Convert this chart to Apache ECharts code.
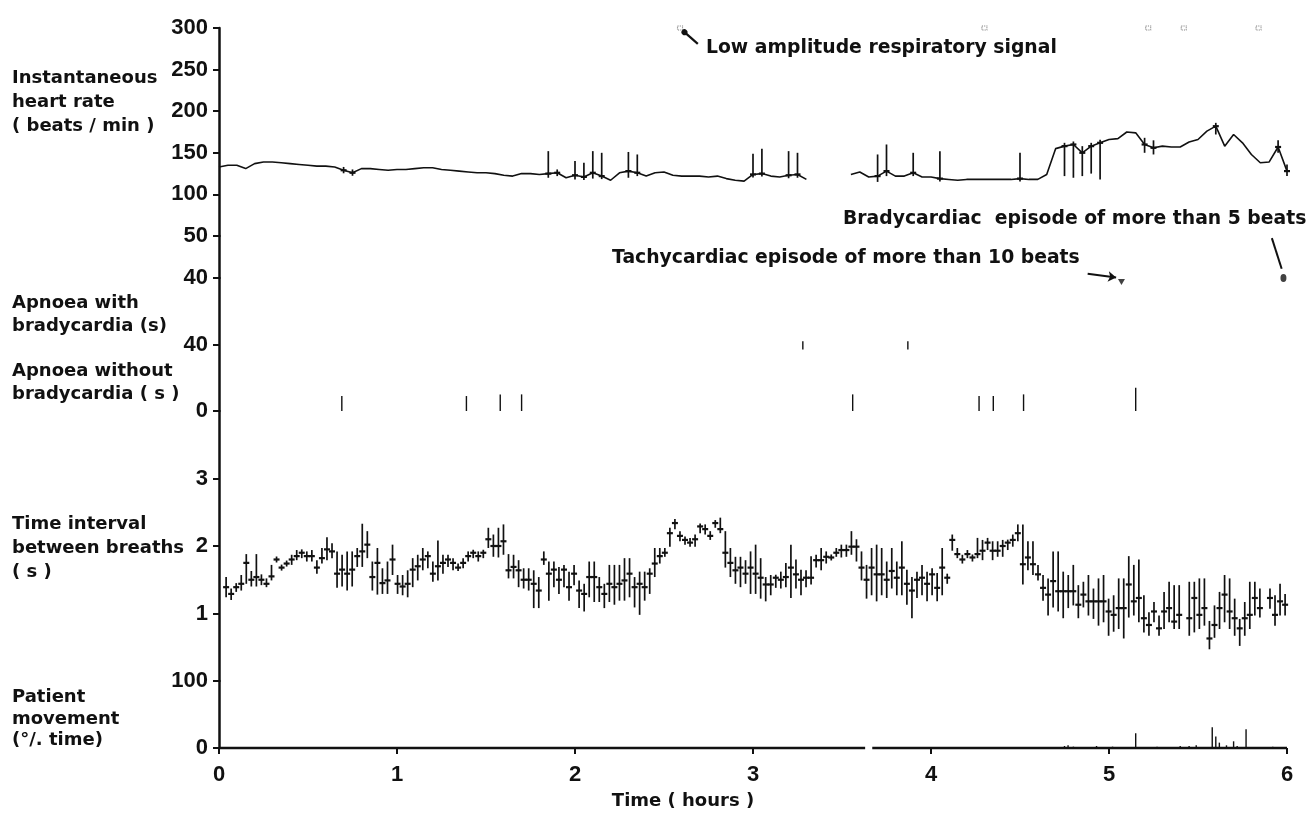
<!DOCTYPE html>
<html>
<head>
<meta charset="utf-8">
<title>Overnight record</title>
<script src="https://cdn.jsdelivr.net/npm/echarts@6/dist/echarts.min.js"></script>
<style>
  html, body { margin: 0; padding: 0; background: #fff; }
  #chart { width: 1308px; height: 813px; }
</style>
</head>
<body>
<div id="chart"></div>
<script>
// x axis: time in hours
const hourLabels = ['0', '1', '2', '3', '4', '5', '6']

// instantaneous heart rate, one value every 0.05 h (null = no signal)
const hrStep = 0.05
const hrMean = [
  133, 135, 135, 131, 137, 139, 139, 138, 137, 136,
  135, 134, 134, 133, 129, 126, 131, 131, 130, 129,
  130, 130, 131, 132, 132, 130, 129, 128, 127, 126,
  126, 125, 123, 122, 125, 125, 124, 125, 126, 120,
  123, 121, 126, 122, 117, 126, 128, 126, 122, 126,
  127, 123, 122, 122, 122, 121, 122, 119, 117, 116,
  124, 125, 122, 121, 123, 124, 118, null, null, null,
  null, 124, 127, 121, 122, 128, 122, 122, 126, 121,
  121, 119, 118, 117, 118, 118, 118, 118, 118, 118,
  119, 118, 118, 124, 155, 158, 160, 150, 158, 162,
  166, 167, 175, 174, 160, 156, 158, 157, 157, 163,
  166, 176, 182, 158, 172, 162, 148, 138, 139, 157,
  128,
]
// heart rate range bars
const hrBarTimes = [0.70, 0.75, 1.85, 1.90, 2.00, 2.05, 2.10, 2.15, 2.30, 2.35, 3.00, 3.05, 3.20, 3.25, 3.70, 3.75, 3.90, 4.05, 4.50, 4.75, 4.80, 4.85, 4.90, 4.95, 5.20, 5.25, 5.60, 5.95, 6.00]
const hrBarLow = [126, 123, 120, 122, 118, 118, 119, 120, 120, 122, 121, 122, 120, 120, 115, 122, 122, 118, 118, 122, 120, 122, 125, 118, 150, 148, 172, 150, 122]
const hrBarHigh = [133, 130, 152, 130, 140, 138, 152, 150, 151, 148, 149, 155, 152, 150, 148, 160, 150, 152, 150, 162, 160, 158, 162, 163, 168, 165, 186, 165, 136]

// low amplitude respiratory signal marks (top line)
const lowAmpTimes = [2.59, 4.30, 5.22, 5.42, 5.84]
const lowAmpLevel = 300

// episodes plotted on the 40 line
const tachyTimes = [5.07]
const bradyTimes = [5.98]
const episodeLevel = 40

// apnoea (s)
const apnoeaBradyTimes = [3.28, 3.87]
const apnoeaBradyLow = [37, 37]
const apnoeaBradyHigh = [42, 42]
const apnoeaTimes = [0.69, 1.39, 1.58, 1.70, 3.56, 4.27, 4.35, 4.52, 5.15]
const apnoeaSeconds = [9, 9, 10, 10, 10, 9, 9, 10, 14]

// time interval between breaths (s), one epoch every breathStep h
const breathStart = 0.04
const breathStep = 0.02833
const breathMid = [
  1.39, 1.29, 1.39, 1.44, 1.75, 1.5, 1.54, 1.5, 1.44, 1.55,
  1.8, 1.68, 1.74, 1.8, 1.85, 1.9, 1.85, 1.85, 1.68, 1.82,
  1.95, 1.92, 1.59, 1.65, 1.59, 1.65, 1.85, 1.92, 2.02, 1.54,
  1.75, 1.45, 1.49, 1.8, 1.44, 1.4, 1.44, 1.65, 1.7, 1.8,
  1.85, 1.59, 1.7, 1.75, 1.8, 1.75, 1.68, 1.75, 1.85, 1.9,
  1.85, 1.9, 2.1, 2.0, 2.0, 2.07, 1.64, 1.69, 1.64, 1.5,
  1.5, 1.44, 1.34, 1.8, 1.59, 1.65, 1.5, 1.65, 1.39, 1.59,
  1.34, 1.29, 1.54, 1.54, 1.39, 1.29, 1.44, 1.39, 1.44, 1.49,
  1.59, 1.39, 1.44, 1.39, 1.59, 1.74, 1.85, 1.9, 2.19, 2.34,
  2.15, 2.09, 2.05, 2.1, 2.29, 2.25, 2.15, 2.34, 2.25, 1.9,
  1.75, 1.64, 1.68, 1.59, 1.68, 1.59,
  1.53, 1.43, 1.43, 1.53, 1.5, 1.54, 1.68, 1.58, 1.5, 1.53,
  1.53, 1.79, 1.79, 1.84, 1.83, 1.9, 1.94, 1.94, 1.99, 1.99,
  1.68, 1.5, 1.68, 1.58, 1.58, 1.5, 1.63, 1.53, 1.68, 1.44,
  1.34, 1.5, 1.53, 1.44, 1.58, 1.38, 1.68, 1.53, 2.09, 1.88,
  1.8, 1.88, 1.83, 1.88, 1.93, 2.05, 1.93, 1.93, 2.0, 2.05,
  2.09, 2.19, 1.73, 1.83, 1.73, 1.58, 1.38, 1.28, 1.48, 1.33,
  1.33, 1.33, 1.33, 1.13, 1.28, 1.18, 1.18, 1.18, 1.18, 1.03,
  0.98, 1.08, 1.08, 1.43, 1.18, 1.23, 0.93, 0.83, 1.03, 0.78,
  1.03, 1.08, 0.88, 0.98, null, 0.93, 1.23, 0.98, 1.08, 0.63,
  0.83, 1.08, 1.28, 1.03, 0.93, 0.78, 0.93, 0.98, 1.23, 1.08,
  null, 1.23, 0.98, 1.18, 1.13,
]
const breathHigh = [
  1.54, 1.37, 1.45, 1.57, 1.88, 1.63, 1.88, 1.58, 1.52, 1.72,
  1.8, 1.68, 1.74, 1.87, 1.94, 1.95, 1.92, 1.94, 1.79, 1.97,
  2.13, 2.04, 1.92, 1.87, 1.92, 1.92, 1.97, 2.33, 2.22, 1.77,
  1.97, 1.67, 1.77, 2.02, 1.57, 1.57, 1.64, 1.82, 1.87, 1.97,
  1.92, 1.77, 2.08, 1.87, 1.87, 1.82, 1.74, 1.82, 1.92, 1.94,
  1.92, 1.93, 2.27, 2.17, 2.27, 2.32, 1.88, 1.87, 1.79, 1.67,
  1.67, 1.64, 1.54, 1.92, 1.77, 1.77, 1.69, 1.72, 1.62, 1.72,
  1.49, 1.44, 1.77, 1.77, 1.54, 1.44, 1.72, 1.72, 1.72, 1.82,
  1.82, 1.54, 1.62, 1.62, 1.67, 1.97, 1.97, 1.97, 2.27, 2.4,
  2.22, 2.14, 2.12, 2.17, 2.32, 2.32, 2.22, 2.37, 2.42, 2.22,
  1.97, 1.84, 1.84, 1.79, 1.92, 2.02,
  1.82, 1.54, 1.57, 1.57, 1.62, 1.75, 2.02, 1.8, 1.65, 1.64,
  1.85, 1.87, 1.97, 1.92, 1.87, 1.97, 2.02, 2.02, 2.22, 2.1,
  1.92, 1.72, 1.97, 2.02, 1.97, 1.77, 1.97, 1.77, 2.07, 1.65,
  1.54, 1.62, 1.72, 1.62, 1.67, 1.6, 1.97, 1.59, 2.17, 1.97,
  1.87, 1.94, 1.87, 2.12, 2.09, 2.12, 2.07, 2.07, 2.09, 2.09,
  2.17, 2.32, 2.32, 2.07, 2.07, 1.72, 1.57, 1.52, 1.92, 1.92,
  1.62, 1.57, 1.72, 1.42, 1.47, 1.57, 1.37, 1.52, 1.57, 1.22,
  1.27, 1.52, 1.52, 1.85, 1.72, 1.8, 1.27, 1.02, 1.17, 0.97,
  1.32, 1.47, 1.42, 1.42, null, 1.47, 1.47, 1.52, 1.52, 0.89,
  1.12, 1.32, 1.57, 1.52, 1.22, 0.92, 1.17, 1.47, 1.47, 1.37,
  null, 1.37, 1.27, 1.44, 1.29,
]
const breathLow = [
  1.24, 1.2, 1.32, 1.34, 1.44, 1.4, 1.4, 1.42, 1.39, 1.49,
  1.8, 1.68, 1.74, 1.72, 1.79, 1.82, 1.77, 1.77, 1.59, 1.74,
  1.79, 1.82, 1.38, 1.4, 1.34, 1.4, 1.69, 1.69, 1.82, 1.34,
  1.28, 1.29, 1.29, 1.57, 1.29, 1.27, 1.24, 1.39, 1.49, 1.64,
  1.67, 1.47, 1.49, 1.59, 1.69, 1.64, 1.63, 1.67, 1.77, 1.82,
  1.77, 1.82, 1.97, 1.84, 1.83, 1.87, 1.52, 1.52, 1.39, 1.37,
  1.34, 1.08, 1.08, 1.72, 1.19, 1.39, 1.29, 1.39, 1.19, 1.42,
  1.08, 1.03, 1.24, 1.17, 1.17, 1.08, 1.17, 1.13, 1.19, 1.19,
  1.24, 1.09, 0.98, 1.19, 1.29, 1.54, 1.74, 1.84, 1.99, 2.25,
  2.07, 2.02, 1.99, 1.99, 2.19, 2.17, 2.09, 2.27, 2.19, 1.68,
  1.54, 1.44, 1.39, 1.44, 1.29, 1.29,
  1.22, 1.18, 1.27, 1.38, 1.37, 1.39, 1.23, 1.37, 1.27, 1.39,
  1.43, 1.68, 1.64, 1.74, 1.79, 1.84, 1.83, 1.84, 1.87, 1.77,
  1.49, 1.22, 1.27, 1.18, 1.27, 1.23, 1.37, 1.27, 1.27, 1.13,
  0.93, 1.23, 1.27, 1.18, 1.27, 1.18, 1.27, 1.44, 1.93, 1.82,
  1.74, 1.82, 1.77, 1.82, 1.79, 1.94, 1.79, 1.84, 1.84, 1.94,
  1.99, 2.07, 1.43, 1.64, 1.57, 1.49, 1.19, 0.97, 1.09, 1.03,
  0.93, 1.08, 1.12, 0.93, 1.09, 0.97, 0.92, 0.82, 0.87, 0.67,
  0.73, 0.77, 0.63, 0.94, 0.97, 0.87, 0.72, 0.67, 0.87, 0.67,
  0.77, 0.87, 0.77, 0.77, null, 0.67, 0.72, 0.77, 0.82, 0.47,
  0.64, 0.77, 0.87, 0.77, 0.67, 0.52, 0.67, 0.77, 0.97, 0.94,
  null, 1.07, 0.82, 0.97, 0.97,
]

// patient movement (% time)
const movementTimes = [4.75, 4.77, 4.80, 4.93, 5.02, 5.15, 5.27, 5.40, 5.45, 5.49, 5.58, 5.60, 5.62, 5.66, 5.70, 5.72, 5.77, 5.92]
const movementPct = [3, 4, 2, 3, 2, 22, 2, 3, 3, 4, 31, 17, 8, 4, 10, 3, 28, 2]
// movement trace baseline, broken where the record is missing
const movementBase = [[0, 0], [3.63, 0], [3.65, '-'], [3.67, 0], [6, 0]]

const ink = '#111'
const tickFont = { color: ink, fontFamily: 'Liberation Sans', fontWeight: 'bold', fontSize: 22 }
const textFont = 'bold 18px "DejaVu Sans"'
const noteFont = 'bold 18.8px "DejaVu Sans"'

// grids stacked top to bottom: heart rate, episodes, apnoea, breaths, movement
const gridRows = [[28, 208], [236, 42], [278, 133], [411, 270], [681, 67]]

function valueAxis (gridIndex, min, max, interval, hidden) {
  return {
    type: 'value',
    gridIndex,
    min,
    max,
    interval,
    axisLine: { show: true, lineStyle: { color: ink, width: 2.5 } },
    axisTick: { show: true, length: 6, lineStyle: { color: ink, width: 2 } },
    splitLine: { show: false },
    axisLabel: { ...tickFont, margin: 11, formatter: v => (hidden.includes(v) ? '' : String(v)) },
  }
}

// range bar with a small cross at the mean
function renderErrorBar (params, api) {
  const t = api.value(0)
  const mid = api.coord([t, api.value(1)])
  const yLow = api.coord([t, api.value(2)])[1]
  const yHigh = api.coord([t, api.value(3)])[1]
  return {
    type: 'group',
    children: [
      {
        type: 'line',
        shape: { x1: mid[0], y1: Math.min(yHigh, mid[1] - 3), x2: mid[0], y2: Math.max(yLow, mid[1] + 3) },
        style: { stroke: ink, lineWidth: 1.7 },
      },
      {
        type: 'line',
        shape: { x1: mid[0] - 3, y1: mid[1], x2: mid[0] + 3, y2: mid[1] },
        style: { stroke: ink, lineWidth: 2.2 },
      },
    ],
  }
}

// plain vertical stroke from value(1) to value(2)
function renderStroke (params, api) {
  const t = api.value(0)
  const a = api.coord([t, api.value(1)])
  const b = api.coord([t, api.value(2)])
  return {
    type: 'line',
    shape: { x1: a[0], y1: a[1], x2: b[0], y2: b[1] },
    style: { stroke: ink, lineWidth: 1.4 },
  }
}

const hrLine = hrMean.map((v, i) => [+(i * hrStep).toFixed(2), v == null ? '-' : v])
const hrBars = hrBarTimes.map((t, i) => [t, hrMean[Math.round(t / hrStep)], hrBarLow[i], hrBarHigh[i]])
const breathBars = []
breathMid.forEach((m, i) => {
  if (m != null) breathBars.push([breathStart + i * breathStep, m, breathLow[i], breathHigh[i]])
})

const chart = echarts.init(document.getElementById('chart'), null, { renderer: 'canvas' })

chart.setOption({
  backgroundColor: '#fff',
  animation: false,
  grid: gridRows.map(([top, height]) => ({ left: 219, width: 1068, top, height })),
  xAxis: gridRows.map((row, i) => ({
    type: 'value',
    gridIndex: i,
    min: 0,
    max: 6,
    interval: 1,
    show: i === gridRows.length - 1,
    axisLine: { show: false },
    axisTick: { show: true, length: 6, lineStyle: { color: ink, width: 2 } },
    splitLine: { show: false },
    axisLabel: { ...tickFont, margin: 16, formatter: v => hourLabels[v] },
  })),
  yAxis: [
    valueAxis(0, 50, 300, 50, []),
    valueAxis(1, 40, 50, 10, [50]),
    valueAxis(2, 0, 80, 40, [80]),
    valueAxis(3, 0, 4, 1, [0, 4]),
    valueAxis(4, 0, 100, 100, []),
  ],
  series: [
    {
      name: 'heart rate',
      type: 'line',
      xAxisIndex: 0,
      yAxisIndex: 0,
      data: hrLine,
      showSymbol: false,
      lineStyle: { color: ink, width: 1.6 },
      connectNulls: false,
    },
    {
      name: 'heart rate range',
      type: 'custom',
      xAxisIndex: 0,
      yAxisIndex: 0,
      data: hrBars,
      renderItem: renderErrorBar,
      encode: { x: 0, y: [1, 2, 3] },
    },
    {
      name: 'low amplitude',
      type: 'scatter',
      xAxisIndex: 0,
      yAxisIndex: 0,
      clip: false,
      data: lowAmpTimes.map(t => [t, lowAmpLevel]),
      symbol: 'rect',
      symbolSize: [5, 4],
      itemStyle: { color: '#fff', borderColor: '#666', borderWidth: 1, borderType: 'dotted' },
      markLine: {
        silent: true,
        symbol: ['circle', 'none'],
        symbolSize: 6,
        label: { show: false },
        lineStyle: { color: ink, width: 2.2, type: 'solid' },
        data: [[{ coord: [2.615, 295] }, { coord: [2.69, 281] }]],
      },
    },
    {
      name: 'tachycardiac',
      type: 'scatter',
      xAxisIndex: 1,
      yAxisIndex: 1,
      clip: false,
      data: tachyTimes.map(t => [t, episodeLevel]),
      symbol: 'triangle',
      symbolRotate: 180,
      symbolSize: [7, 6],
      symbolOffset: [0, 4],
      itemStyle: { color: ink },
      markLine: {
        silent: true,
        symbol: ['none', 'arrow'],
        symbolSize: 8,
        label: { show: false },
        lineStyle: { color: ink, width: 2, type: 'solid' },
        data: [[{ coord: [4.88, 41] }, { coord: [5.04, 40.1] }]],
      },
    },
    {
      name: 'bradycardiac',
      type: 'scatter',
      xAxisIndex: 1,
      yAxisIndex: 1,
      clip: false,
      data: bradyTimes.map(t => [t, episodeLevel]),
      symbol: 'circle',
      symbolSize: [6, 8],
      itemStyle: { color: ink },
      markLine: {
        silent: true,
        symbol: ['none', 'none'],
        label: { show: false },
        lineStyle: { color: ink, width: 2, type: 'solid' },
        data: [[{ coord: [5.915, 49.5] }, { coord: [5.97, 42.2] }]],
      },
    },
    {
      name: 'apnoea with bradycardia',
      type: 'custom',
      xAxisIndex: 2,
      yAxisIndex: 2,
      data: apnoeaBradyTimes.map((t, i) => [t, apnoeaBradyLow[i], apnoeaBradyHigh[i]]),
      renderItem: renderStroke,
      encode: { x: 0, y: [1, 2] },
    },
    {
      name: 'apnoea without bradycardia',
      type: 'custom',
      xAxisIndex: 2,
      yAxisIndex: 2,
      data: apnoeaTimes.map((t, i) => [t, 0, apnoeaSeconds[i]]),
      renderItem: renderStroke,
      encode: { x: 0, y: [1, 2] },
    },
    {
      name: 'breath interval',
      type: 'custom',
      xAxisIndex: 3,
      yAxisIndex: 3,
      data: breathBars,
      renderItem: renderErrorBar,
      encode: { x: 0, y: [1, 2, 3] },
    },
    {
      name: 'movement',
      type: 'custom',
      xAxisIndex: 4,
      yAxisIndex: 4,
      clip: false,
      data: movementTimes.map((t, i) => [t, 0, movementPct[i]]),
      renderItem: renderStroke,
      encode: { x: 0, y: [1, 2] },
    },
    {
      name: 'movement baseline',
      type: 'line',
      xAxisIndex: 4,
      yAxisIndex: 4,
      clip: false,
      data: movementBase,
      showSymbol: false,
      connectNulls: false,
      lineStyle: { color: ink, width: 2.5 },
    },
  ],
  graphic: [
    { type: 'text', x: 12, y: 102, style: { text: 'Instantaneous\nheart rate\n( beats / min )', font: textFont, fill: ink, lineHeight: 24, verticalAlign: 'middle' } },
    { type: 'text', x: 12, y: 315, style: { text: 'Apnoea with\nbradycardia (s)', font: textFont, fill: ink, lineHeight: 23, verticalAlign: 'middle' } },
    { type: 'text', x: 12, y: 383, style: { text: 'Apnoea without\nbradycardia ( s )', font: textFont, fill: ink, lineHeight: 23, verticalAlign: 'middle' } },
    { type: 'text', x: 12, y: 548, style: { text: 'Time interval\nbetween breaths\n( s )', font: textFont, fill: ink, lineHeight: 24, verticalAlign: 'middle' } },
    { type: 'text', x: 12, y: 719, style: { text: 'Patient\nmovement\n(°/. time)', font: textFont, fill: ink, lineHeight: 21.5, verticalAlign: 'middle' } },
    { type: 'text', x: 706, y: 48, style: { text: 'Low amplitude respiratory signal', font: noteFont, fill: ink, verticalAlign: 'middle' } },
    { type: 'text', x: 843, y: 219, style: { text: 'Bradycardiac  episode of more than 5 beats', font: noteFont, fill: ink, verticalAlign: 'middle' } },
    { type: 'text', x: 612, y: 258, style: { text: 'Tachycardiac episode of more than 10 beats', font: noteFont, fill: ink, verticalAlign: 'middle' } },
    { type: 'text', x: 683, y: 801, style: { text: 'Time ( hours )', font: textFont, fill: ink, align: 'center', verticalAlign: 'middle' } },
  ],
})
</script>
</body>
</html>
